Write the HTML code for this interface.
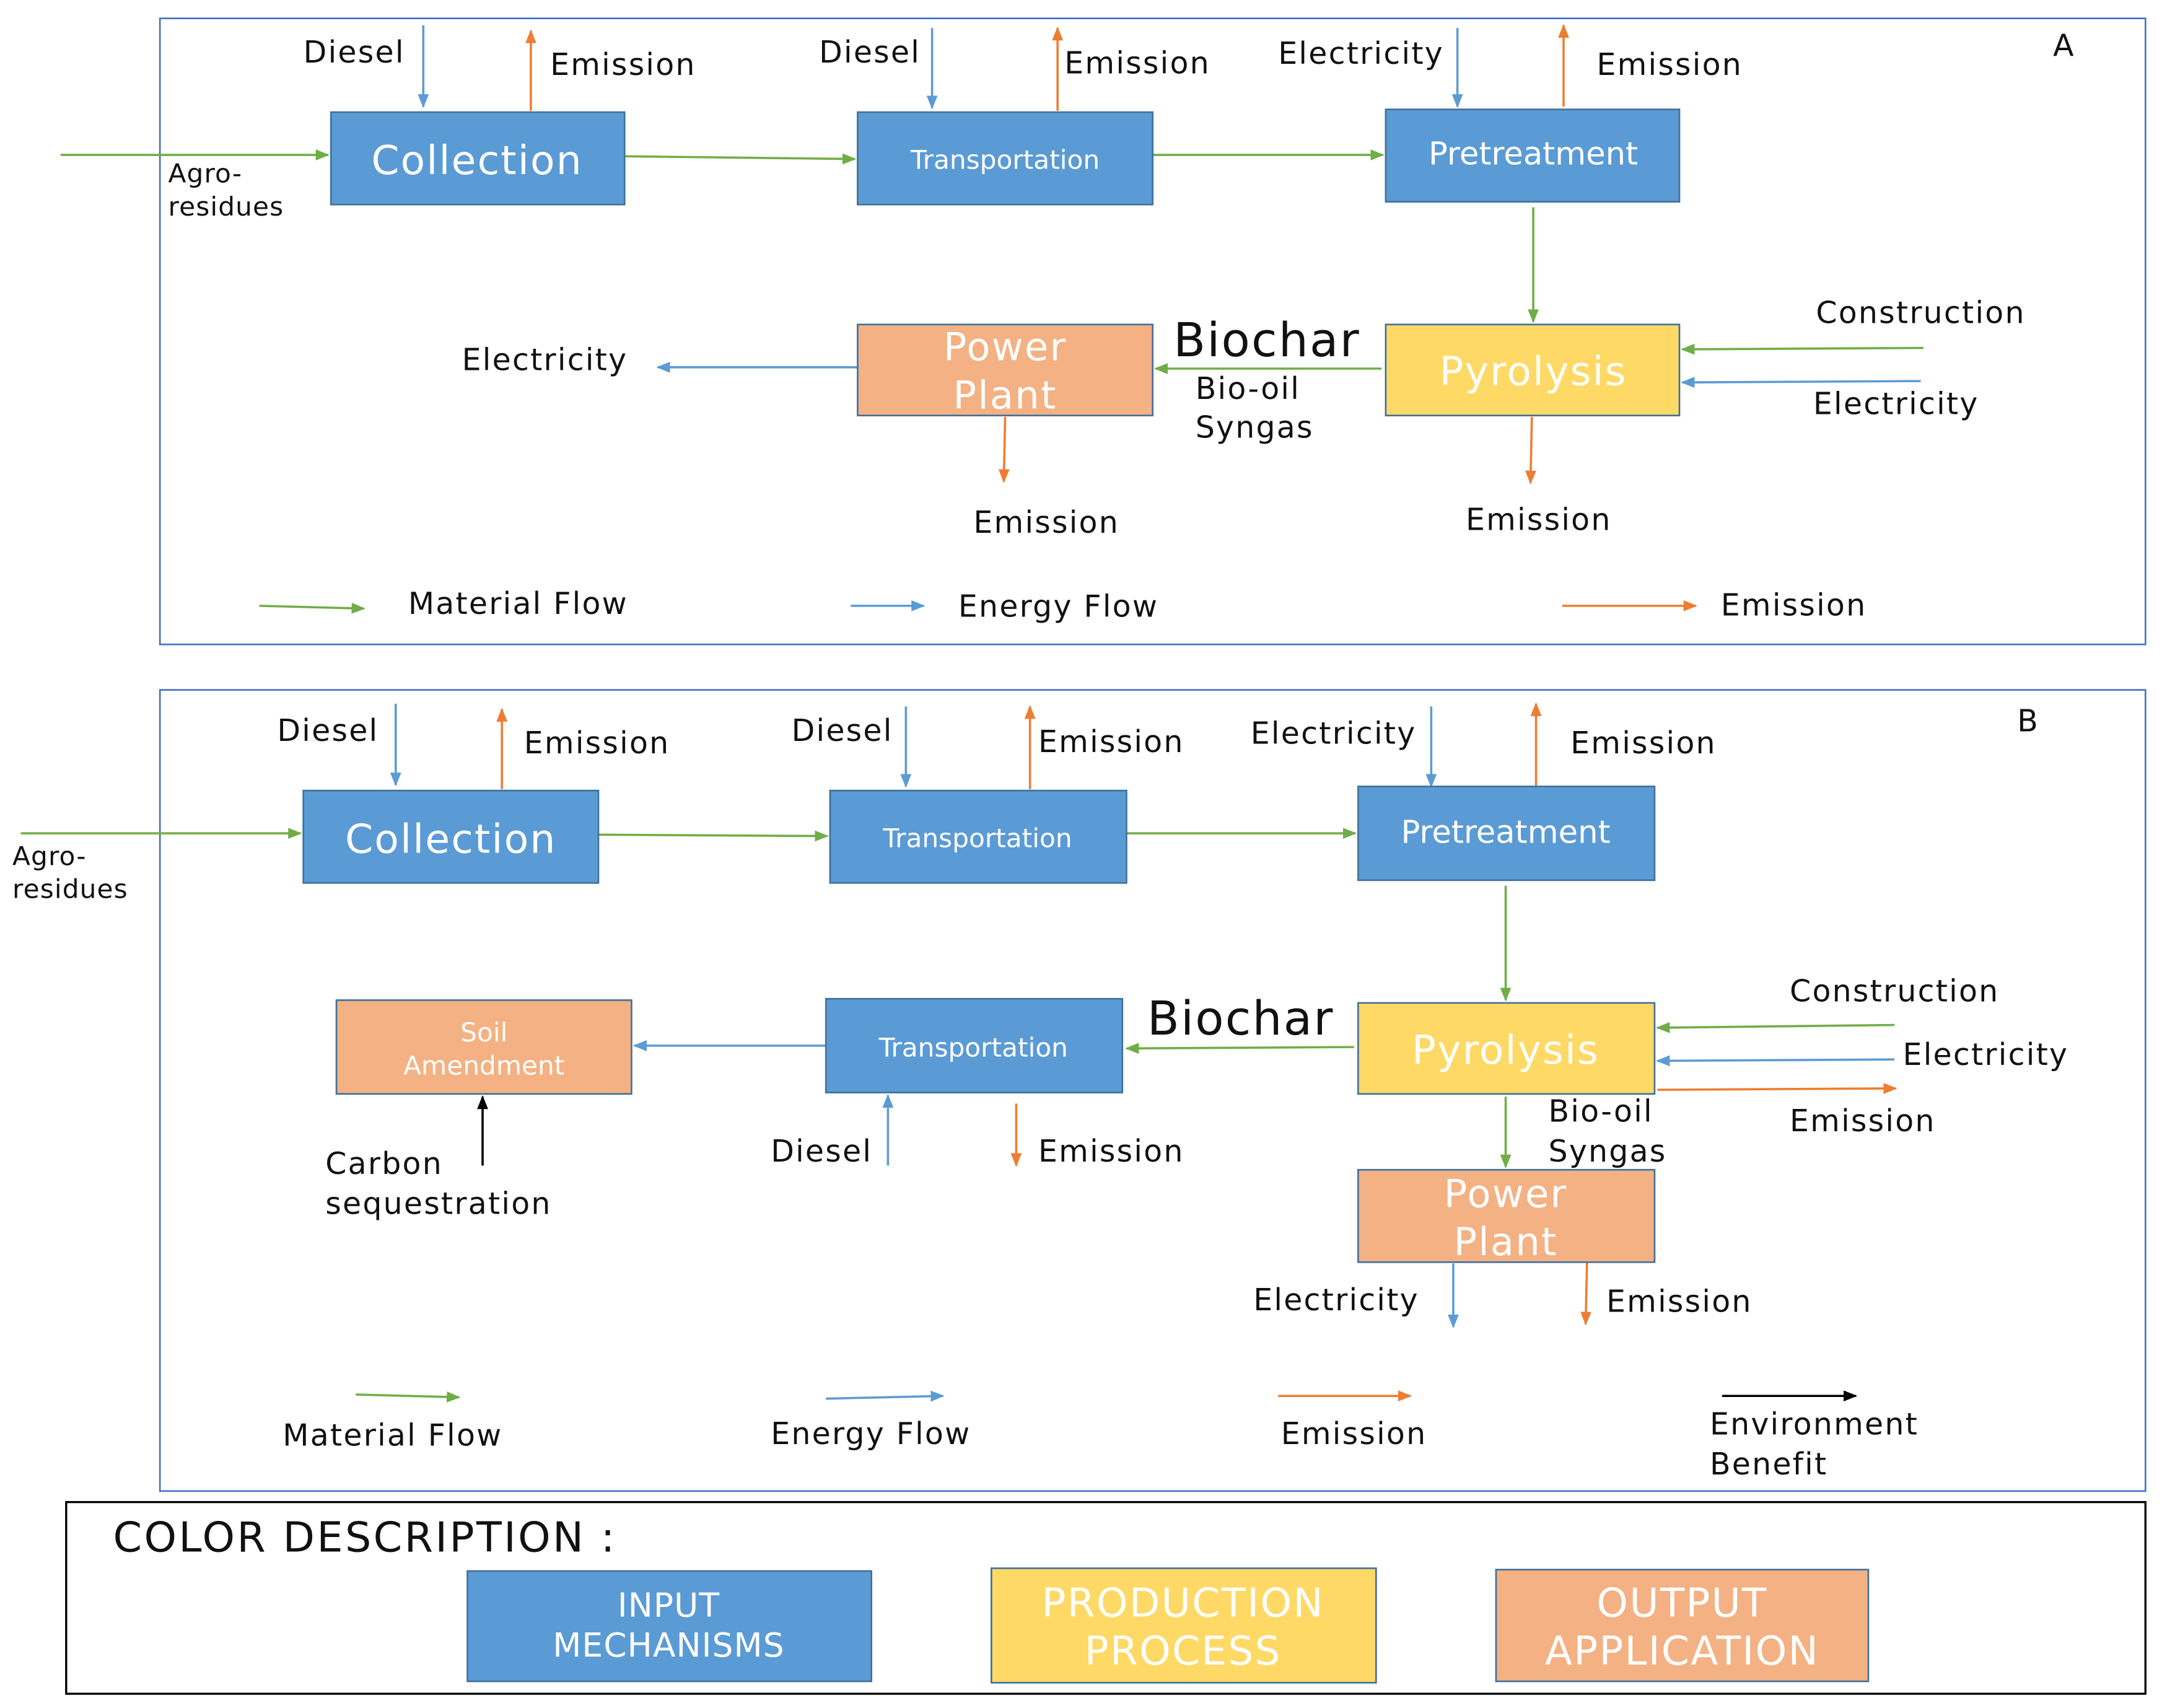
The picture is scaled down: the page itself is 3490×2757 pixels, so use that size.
<!DOCTYPE html>
<html><head><meta charset="utf-8"><style>
html,body{margin:0;padding:0;background:#fff}
svg{display:block}
text{font-family:"DejaVu Sans","Noto Sans CJK KR",sans-serif;fill:#111}
.w{fill:#fff}
</style></head><body>
<svg width="3490" height="2757" viewBox="0 0 1568 1238" xmlns="http://www.w3.org/2000/svg">
<defs>
<marker id="g" markerWidth="10" markerHeight="10" refX="9" refY="5" orient="auto" markerUnits="userSpaceOnUse"><path d="M0,1 L10,5 L0,9z" fill="#70ad47"/></marker>
<marker id="b" markerWidth="10" markerHeight="10" refX="9" refY="5" orient="auto" markerUnits="userSpaceOnUse"><path d="M0,1 L10,5 L0,9z" fill="#5b9bd5"/></marker>
<marker id="o" markerWidth="10" markerHeight="10" refX="9" refY="5" orient="auto" markerUnits="userSpaceOnUse"><path d="M0,1 L10,5 L0,9z" fill="#ed7d31"/></marker>
<marker id="k" markerWidth="10" markerHeight="10" refX="9" refY="5" orient="auto" markerUnits="userSpaceOnUse"><path d="M0,1 L10,5 L0,9z" fill="#000"/></marker>
</defs>
<rect width="1568" height="1238" fill="#fff"/>
<rect x="116" y="13" width="1440" height="454" fill="none" stroke="#4472c4" stroke-width="1.2"/>
<rect x="116" y="500" width="1440" height="581" fill="none" stroke="#4472c4" stroke-width="1.2"/>
<rect x="48" y="1089" width="1508" height="139" fill="none" stroke="#000" stroke-width="1.5"/>

<g stroke-width="1.6" fill="none">
<line x1="44" y1="112" x2="238" y2="112" stroke="#70ad47" marker-end="url(#g)"/>
<line x1="453" y1="113" x2="620" y2="115" stroke="#70ad47" marker-end="url(#g)"/>
<line x1="836" y1="112" x2="1003" y2="112" stroke="#70ad47" marker-end="url(#g)"/>
<line x1="1112" y1="150" x2="1112" y2="233" stroke="#70ad47" marker-end="url(#g)"/>
<line x1="1002" y1="267" x2="838" y2="267" stroke="#70ad47" marker-end="url(#g)"/>
<line x1="622" y1="266" x2="477" y2="266" stroke="#5b9bd5" marker-end="url(#b)"/>
<line x1="1395" y1="252" x2="1220" y2="253" stroke="#70ad47" marker-end="url(#g)"/>
<line x1="1393" y1="276" x2="1220" y2="277" stroke="#5b9bd5" marker-end="url(#b)"/>
<line x1="1111" y1="302" x2="1110" y2="350" stroke="#ed7d31" marker-end="url(#o)"/>
<line x1="729" y1="302" x2="728" y2="349" stroke="#ed7d31" marker-end="url(#o)"/>
<line x1="307" y1="18" x2="307" y2="77" stroke="#5b9bd5" marker-end="url(#b)"/>
<line x1="385" y1="80" x2="385" y2="22" stroke="#ed7d31" marker-end="url(#o)"/>
<line x1="676" y1="20" x2="676" y2="78" stroke="#5b9bd5" marker-end="url(#b)"/>
<line x1="767" y1="80" x2="767" y2="20" stroke="#ed7d31" marker-end="url(#o)"/>
<line x1="1057" y1="20" x2="1057" y2="77" stroke="#5b9bd5" marker-end="url(#b)"/>
<line x1="1134" y1="77" x2="1134" y2="18" stroke="#ed7d31" marker-end="url(#o)"/>
<line x1="188" y1="439" x2="264" y2="441" stroke="#70ad47" marker-end="url(#g)"/>
<line x1="617" y1="439" x2="670" y2="439" stroke="#5b9bd5" marker-end="url(#b)"/>
<line x1="1133" y1="439" x2="1230" y2="439" stroke="#ed7d31" marker-end="url(#o)"/>
<line x1="15" y1="604" x2="218" y2="604" stroke="#70ad47" marker-end="url(#g)"/>
<line x1="434" y1="605" x2="600" y2="606" stroke="#70ad47" marker-end="url(#g)"/>
<line x1="817" y1="604" x2="983" y2="604" stroke="#70ad47" marker-end="url(#g)"/>
<line x1="1092" y1="642" x2="1092" y2="725" stroke="#70ad47" marker-end="url(#g)"/>
<line x1="982" y1="759" x2="817" y2="760" stroke="#70ad47" marker-end="url(#g)"/>
<line x1="599" y1="758" x2="460" y2="758" stroke="#5b9bd5" marker-end="url(#b)"/>
<line x1="350" y1="845" x2="350" y2="795" stroke="#000" marker-end="url(#k)"/>
<line x1="644" y1="845" x2="644" y2="794" stroke="#5b9bd5" marker-end="url(#b)"/>
<line x1="737" y1="800" x2="737" y2="845" stroke="#ed7d31" marker-end="url(#o)"/>
<line x1="1374" y1="743" x2="1202" y2="745" stroke="#70ad47" marker-end="url(#g)"/>
<line x1="1374" y1="768" x2="1202" y2="769" stroke="#5b9bd5" marker-end="url(#b)"/>
<line x1="1202" y1="790" x2="1375" y2="789" stroke="#ed7d31" marker-end="url(#o)"/>
<line x1="1092" y1="795" x2="1092" y2="846" stroke="#70ad47" marker-end="url(#g)"/>
<line x1="1054" y1="916" x2="1054" y2="962" stroke="#5b9bd5" marker-end="url(#b)"/>
<line x1="1151" y1="914" x2="1150" y2="960" stroke="#ed7d31" marker-end="url(#o)"/>
<line x1="287" y1="510" x2="287" y2="569" stroke="#5b9bd5" marker-end="url(#b)"/>
<line x1="364" y1="572" x2="364" y2="514" stroke="#ed7d31" marker-end="url(#o)"/>
<line x1="657" y1="512" x2="657" y2="570" stroke="#5b9bd5" marker-end="url(#b)"/>
<line x1="747" y1="572" x2="747" y2="512" stroke="#ed7d31" marker-end="url(#o)"/>
<line x1="1038" y1="512" x2="1038" y2="570" stroke="#5b9bd5" marker-end="url(#b)"/>
<line x1="1114" y1="570" x2="1114" y2="510" stroke="#ed7d31" marker-end="url(#o)"/>
<line x1="258" y1="1011" x2="333" y2="1013" stroke="#70ad47" marker-end="url(#g)"/>
<line x1="599" y1="1014" x2="684" y2="1012" stroke="#5b9bd5" marker-end="url(#b)"/>
<line x1="927" y1="1012" x2="1023" y2="1012" stroke="#ed7d31" marker-end="url(#o)"/>
<line x1="1249" y1="1012" x2="1346" y2="1012" stroke="#000" marker-end="url(#k)"/>
</g>

<g stroke-width="1.2">
<rect x="240" y="81" width="213" height="67" fill="#5b9bd5" stroke="#41719c"/>
<rect x="622" y="81" width="214" height="67" fill="#5b9bd5" stroke="#41719c"/>
<rect x="1005" y="79" width="213" height="67" fill="#5b9bd5" stroke="#41719c"/>
<rect x="1005" y="235" width="213" height="66" fill="#ffd966" stroke="#41719c"/>
<rect x="622" y="235" width="214" height="66" fill="#f4b183" stroke="#41719c"/>
<rect x="220" y="573" width="214" height="67" fill="#5b9bd5" stroke="#41719c"/>
<rect x="602" y="573" width="215" height="67" fill="#5b9bd5" stroke="#41719c"/>
<rect x="985" y="570" width="215" height="68" fill="#5b9bd5" stroke="#41719c"/>
<rect x="985" y="727" width="215" height="66" fill="#ffd966" stroke="#41719c"/>
<rect x="599" y="724" width="215" height="68" fill="#5b9bd5" stroke="#41719c"/>
<rect x="244" y="725" width="214" height="68" fill="#f4b183" stroke="#41719c"/>
<rect x="985" y="848" width="215" height="67" fill="#f4b183" stroke="#41719c"/>
<rect x="339" y="1139" width="293" height="80" fill="#5b9bd5" stroke="#41719c"/>
<rect x="719" y="1137" width="279" height="83" fill="#ffd966" stroke="#41719c"/>
<rect x="1085" y="1138" width="270" height="81" fill="#f4b183" stroke="#41719c"/>
</g>

<g text-anchor="middle">
<text class="w" x="346" y="126" font-size="29" letter-spacing="1">Collection</text>
<text class="w" x="729" y="122" font-size="19">Transportation</text>
<text class="w" x="1112" y="119" font-size="23">Pretreatment</text>
<text class="w" x="1112" y="279" font-size="29" letter-spacing="1">Pyrolysis</text>
<text class="w" x="729" y="261" font-size="28" letter-spacing="1">Power</text>
<text class="w" x="729" y="296" font-size="28" letter-spacing="1">Plant</text>
<text class="w" x="327" y="618" font-size="29" letter-spacing="1">Collection</text>
<text class="w" x="709" y="614" font-size="19">Transportation</text>
<text class="w" x="1092" y="611" font-size="23">Pretreatment</text>
<text class="w" x="1092" y="771" font-size="29" letter-spacing="1">Pyrolysis</text>
<text class="w" x="706" y="766" font-size="19">Transportation</text>
<text class="w" x="351" y="755" font-size="19">Soil</text>
<text class="w" x="351" y="779" font-size="19">Amendment</text>
<text class="w" x="1092" y="875" font-size="28" letter-spacing="1">Power</text>
<text class="w" x="1092" y="910" font-size="28" letter-spacing="1">Plant</text>
<text class="w" x="485" y="1172" font-size="24" letter-spacing="0.5">INPUT</text>
<text class="w" x="485" y="1201" font-size="24" letter-spacing="0.5">MECHANISMS</text>
<text class="w" x="858" y="1172" font-size="29" letter-spacing="1">PRODUCTION</text>
<text class="w" x="858" y="1207" font-size="29" letter-spacing="1">PROCESS</text>
<text class="w" x="1220" y="1172" font-size="29" letter-spacing="1">OUTPUT</text>
<text class="w" x="1220" y="1207" font-size="29" letter-spacing="1">APPLICATION</text>
</g>

<g font-size="22" letter-spacing="1">
<text x="220" y="45">Diesel</text>
<text x="399" y="54">Emission</text>
<text x="594" y="45">Diesel</text>
<text x="772" y="53">Emission</text>
<text x="927" y="46">Electricity</text>
<text x="1158" y="54">Emission</text>
<text x="1489" y="40">A</text>
<text x="335" y="268">Electricity</text>
<text x="1317" y="234">Construction</text>
<text x="1315" y="300">Electricity</text>
<text x="706" y="386">Emission</text>
<text x="1063" y="384">Emission</text>
<text x="296" y="445">Material Flow</text>
<text x="695" y="447">Energy Flow</text>
<text x="1248" y="446">Emission</text>
<text x="867" y="289">Bio-oil</text>
<text x="867" y="317">Syngas</text>
<text x="201" y="537">Diesel</text>
<text x="380" y="546">Emission</text>
<text x="574" y="537">Diesel</text>
<text x="753" y="545">Emission</text>
<text x="907" y="539">Electricity</text>
<text x="1139" y="546">Emission</text>
<text x="1463" y="530">B</text>
<text x="1298" y="726">Construction</text>
<text x="1380" y="772">Electricity</text>
<text x="1298" y="820">Emission</text>
<text x="1123" y="813">Bio-oil</text>
<text x="1123" y="842">Syngas</text>
<text x="236" y="851">Carbon</text>
<text x="236" y="880">sequestration</text>
<text x="559" y="842">Diesel</text>
<text x="753" y="842">Emission</text>
<text x="909" y="950">Electricity</text>
<text x="1165" y="951">Emission</text>
<text x="205" y="1048">Material Flow</text>
<text x="559" y="1047">Energy Flow</text>
<text x="929" y="1047">Emission</text>
<text x="1240" y="1040">Environment</text>
<text x="1240" y="1069">Benefit</text>
</g>
<g font-size="19" letter-spacing="0.5">
<text x="122" y="132">Agro-</text>
<text x="122" y="156">residues</text>
<text x="9" y="627">Agro-</text>
<text x="9" y="651">residues</text>
</g>
<text x="851" y="258" font-size="34" letter-spacing="1">Biochar</text>
<text x="832" y="750" font-size="34" letter-spacing="1">Biochar</text>
<text x="82" y="1125" font-size="30" letter-spacing="1.5">COLOR DESCRIPTION :</text>
</svg>
</body></html>
